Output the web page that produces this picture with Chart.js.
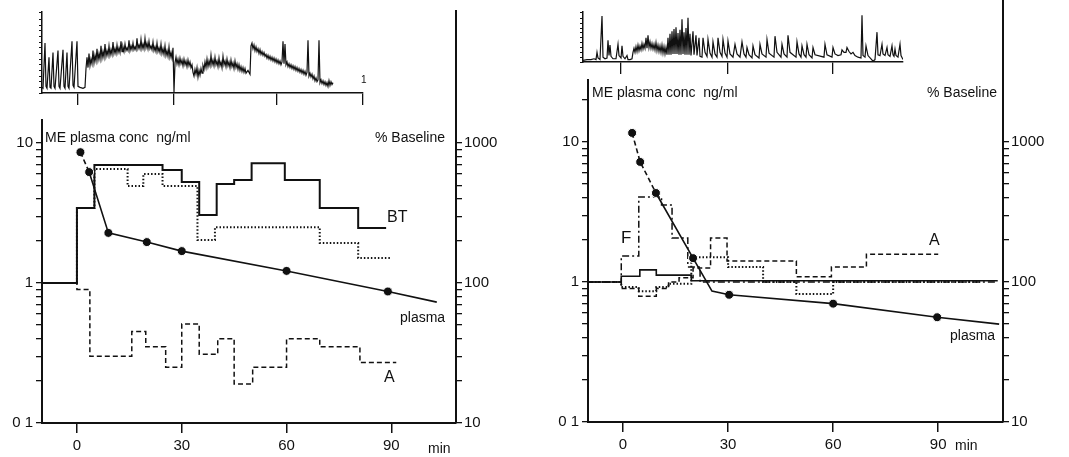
<!DOCTYPE html>
<html>
<head>
<meta charset="utf-8">
<script src="https://cdn.jsdelivr.net/npm/chart.js@4.4.1/dist/chart.umd.min.js"></script>
<style>
  body { margin: 0; background: #fff; }
  #wrap { position: relative; width: 1069px; height: 457px; background: #fff; overflow: hidden; }
  #wrap canvas { position: absolute; }
  .lbl { position: absolute; font: 14px "Liberation Sans", Arial, sans-serif; color: #111; white-space: pre; line-height: 1; }
</style>
</head>
<body>
<div id="wrap">
  <canvas id="mainL" width="530" height="457" style="left:0;top:0"></canvas>
  <canvas id="traceL" width="400" height="110" style="left:0;top:0"></canvas>
  <canvas id="mainR" width="523" height="457" style="left:546px;top:0"></canvas>
  <canvas id="traceR" width="400" height="80" style="left:546px;top:0"></canvas>

  <div class="lbl" style="left:45px;top:130px">ME plasma conc  ng/ml</div>
  <div class="lbl" style="left:375px;top:130px">% Baseline</div>
  <div class="lbl" style="left:387px;top:209px;font-size:16px">BT</div>
  <div class="lbl" style="left:400px;top:310px">plasma</div>
  <div class="lbl" style="left:384px;top:369px;font-size:16px">A</div>
  <div class="lbl" style="left:428px;top:441px">min</div>
  <div class="lbl" style="left:361px;top:75px;font-size:10px">1</div>

  <div class="lbl" style="left:592px;top:85px">ME plasma conc  ng/ml</div>
  <div class="lbl" style="left:927px;top:85px">% Baseline</div>
  <div class="lbl" style="left:621px;top:229px;font-size:17px">F</div>
  <div class="lbl" style="left:929px;top:232px;font-size:16px">A</div>
  <div class="lbl" style="left:950px;top:328px">plasma</div>
  <div class="lbl" style="left:955px;top:438px">min</div>
</div>
<script>
const INK = '#111';

// time axis (min)
const minuteTicks = [0, 30, 60, 90];
const minuteLabels = ['0', '30', '60', '90'];

// log axis labels
const concMajors = [0.1, 1, 10];
const concLabels = ['0 1', '1', '10'];
const pctMajors = [10, 100, 1000];
const pctLabels = ['10', '100', '1000'];
const logMinor = [1, 2, 3, 4, 5, 6, 7, 8, 9];

// ---- left panel ----
const plasmaL_t = [1, 3.5, 9, 20, 30, 60, 89, 103];
const plasmaL_c = [8.6, 6.2, 2.28, 1.96, 1.69, 1.22, 0.87, 0.73];
const plasmaL_dots_t = [1, 3.5, 9, 20, 30, 60, 89];
const plasmaL_dots_c = [8.6, 6.2, 2.28, 1.96, 1.69, 1.22, 0.87];

const btL_edges = [-10, 0, 5, 24.5, 30, 35, 40, 45, 50, 59.5, 69.5, 80.5, 88.5];
const btL_vals = [100, 343, 697, 641, 527, 306, 510, 544, 718, 544, 343, 247];

const dotL_edges = [-10, 0, 5, 14.5, 19, 24.5, 34.5, 39.5, 69.5, 80.5, 90];
const dotL_vals = [100, 343, 652, 493, 600, 493, 203, 250, 193, 151];

const aL_edges = [-10, 0, 3.7, 15.7, 19.7, 25.4, 30, 35, 40.3, 45, 50.3, 60, 69.5, 81, 91.4];
const aL_vals = [100, 90, 30, 45, 35, 25, 51, 31, 40, 19, 25, 40, 35, 27];

// ---- right panel ----
const plasmaR_t = [2.6, 4.9, 9.4, 20, 25.4, 30.3, 60, 89.7, 107.4];
const plasmaR_c = [11.6, 7.2, 4.32, 1.48, 0.86, 0.81, 0.70, 0.56, 0.50];
const plasmaR_dots_t = [2.6, 4.9, 9.4, 20, 30.3, 60, 89.7];
const plasmaR_dots_c = [11.6, 7.2, 4.32, 1.48, 0.81, 0.70, 0.56];

const btR_edges = [-10, -0.5, 4.8, 9.5, 19.5, 107];
const btR_vals = [100, 110, 122, 112, 102];

const dotR_edges = [-10, -0.5, 4.5, 9.5, 13, 19.5, 30, 40, 49.5, 60, 102];
const dotR_vals = [100, 92, 86, 92, 97, 150, 128, 100, 82, 100];

const aR_edges = [-10, -0.5, 4.5, 9.5, 13, 16, 20, 25, 29.7, 49.5, 59.5, 69.5, 90];
const aR_vals = [100, 90, 79, 90, 100, 107, 126, 206, 141, 109, 128, 158];

const fR_edges = [-10, -0.5, 4.5, 11, 14, 18.5, 22, 107];
const fR_vals = [100, 153, 405, 355, 206, 128, 100];

// ---- contraction traces (chart-paper position, height above baseline) ----
const traceL_ticks = [36, 132, 235, 321];
const traceL = [
[0,6],[1,5],[3,53],[4,7],[5,5],[7,38],[8,6],[9,5],[11,43],[12,7],[13,5],[16,45],[17,7],[18,5],[21,46],[22,7],[23,5],[25,43],[26,7],[27,5],[30,55],[31,8],[32,6],[35,55],[36,7],[38,6],[41,5],[43,6],
[44,26],[45,38],[46,27],[47,42],[48,29],[49,36],[50,31],[51,45],[52,32],[53,40],[54,34],[55,47],[56,35],[57,42],[58,36],[59,50],[60,37],[61,44],[62,38],[63,52],[64,39],[65,45],[66,40],[67,50],[68,40],[69,46],[70,41],[71,54],[72,42],[73,47],[74,42],[75,51],[76,43],[77,48],[78,43],[79,55],[80,44],[81,49],[82,44],[83,52],[84,45],[85,48],[86,45],[87,56],[88,45],[89,50],[90,46],[91,53],[92,46],[93,49],[94,46],[95,58],[96,47],[97,51],[98,47],[99,57],[100,47],[101,52],[102,47],[103,58],[104,48],[105,53],[106,47],[107,55],[108,47],[109,50],[110,46],[111,54],[112,45],[113,49],[114,44],[115,53],[116,44],[117,48],[118,43],[119,52],[120,42],[121,47],[122,41],[123,50],[124,40],[125,45],[126,39],[127,49],[128,38],[129,43],[130,37],[131,48],
[132,1],[133,32],[134,38],[135,31],[136,36],[137,30],[138,37],[139,31],[140,35],[141,29],[142,36],[143,30],[144,34],[145,28],[146,35],[147,29],[148,33],[149,27],[150,30],[151,22],[152,18],[153,25],[154,20],[155,27],[156,17],[157,24],[158,19],[159,26],[160,21],[161,29],[162,25],[163,33],[164,27],[165,36],[166,28],[167,34],[168,29],[169,40],[170,30],[171,35],[172,29],[173,38],[174,30],[175,34],[176,28],[177,37],[178,29],[179,33],[180,27],[181,39],[182,30],[183,34],[184,28],[185,36],[186,29],[187,33],[188,27],[189,35],[190,28],[191,32],[192,26],[193,34],[194,27],[195,31],[196,25],[197,30],[198,24],[199,28],[200,23],[201,27],[202,22],[203,26],[204,21],[206,24],[208,20],
[209,50],[210,53],[211,47],[212,51],[213,45],[214,49],[215,44],[216,47],[217,42],[218,46],[219,41],[220,44],[221,40],[222,43],[223,39],[224,41],[225,37],[226,40],[227,36],[228,39],[229,35],[230,38],[231,34],[232,37],[233,33],[234,36],[235,32],[236,35],[237,31],[238,34],[239,30],[240,33],[241,55],[242,31],[243,52],[244,30],[245,33],[246,28],[247,31],[248,27],[249,30],[250,26],[251,29],[252,25],[253,28],[254,24],[255,27],[256,23],[257,26],[258,22],[259,25],[260,21],[261,24],[262,20],[263,23],[264,19],[265,22],[266,56],[267,18],[268,21],[269,17],[270,20],[271,15],[272,18],[273,13],[274,16],[275,12],[276,14],[277,56],[278,11],[279,14],[280,10],[281,13],[282,9],[283,12],[284,8],[285,11],[286,7],[287,13],[288,8],[289,12],[290,9],[291,11]
];

const traceR_ticks = [38, 145, 250];
const traceR = [
[0,2],[4,3],[8,3],[11,4],[13,3],[14,12],[15,5],[17,3],[19,57],[20,6],[22,4],[24,5],[25,27],[26,8],[27,21],[28,7],[30,4],[33,4],[35,22],[36,8],[38,5],[39,20],[40,7],[42,4],[44,8],[45,3],[47,3],[49,4],
[50,12],[51,17],[52,12],[53,19],[54,13],[55,21],[56,14],[57,20],[58,15],[59,23],[60,16],[61,22],[62,17],[63,30],[64,17],[65,33],[66,18],[67,25],[68,17],[69,23],[70,16],[71,22],[72,15],[73,24],[74,14],[75,21],[76,13],[77,20],[78,12],[79,21],[80,11],[81,19],[82,10],[83,18],[84,9],[85,30],[86,9],[87,35],[88,9],[89,38],[90,10],[91,41],[92,10],[93,43],[94,10],[95,36],[96,9],[97,40],[98,9],[99,53],[100,10],[101,37],[102,9],[103,42],[104,9],[105,55],[106,9],[107,35],[108,8],[110,38],[111,9],[113,33],[114,8],[116,30],[117,7],
[119,6],[120,30],[122,12],[124,7],[125,28],[127,11],[129,6],[130,25],[132,10],[134,6],[135,30],[137,12],[139,7],[140,28],[142,11],[144,6],[145,26],[147,10],[150,6],[152,22],[154,10],[157,6],[159,25],[161,10],[163,6],[164,18],[166,9],[169,5],[170,20],[172,9],[176,5],[177,22],[179,10],[183,6],[184,28],[186,11],[191,6],[192,32],[194,12],[198,6],[199,22],[201,10],[204,6],[205,33],[207,12],[213,6],[214,25],[216,10],[218,6],[219,20],[221,9],[223,6],[224,22],[226,9],[229,5],[230,18],[232,9],[241,6],[242,22],[244,9],[249,6],[250,18],[252,10],[255,8],[258,9],[259,15],[261,12],[263,12],[264,18],[266,13],[268,10],[270,12],[272,8],[275,6],[278,5],[279,58],[280,8],[282,6],[283,20],[285,8],[288,4],[290,1],[292,3],[294,37],[295,9],[297,8],[299,22],[300,10],[302,8],[304,18],[305,9],[307,7],[309,20],[310,9],[311,7],[312,16],[313,8],[315,6],[317,22],[318,8],[320,3]
];

Chart.defaults.font.family = '"Liberation Sans", Arial, sans-serif';
Chart.defaults.font.size = 15;
Chart.defaults.color = INK;

function steps(edges, vals) {
    const pts = vals.map((v, i) => ({ x: edges[i], y: v }));
    pts.push({ x: edges[edges.length - 1], y: vals[vals.length - 1] });
    return pts;
}

function pairs(xs, ys) {
    return xs.map((x, i) => ({ x: x, y: ys[i] }));
}

function logTicks(lo, hi, extra) {
    const out = [];
    for (let d = lo; d < hi * 0.99; d *= 10) {
        logMinor.forEach(m => out.push(+(d * m).toPrecision(3)));
    }
    out.push(hi);
    return out.concat(extra || []);
}

// draws the right axis line on above the plot, up through the trace area
const axisExtend = {
    id: 'axisExtend',
    afterDraw(chart, args, opts) {
        if (opts.top == null) return;
        const { ctx, chartArea } = chart;
        ctx.save();
        ctx.strokeStyle = INK;
        ctx.lineWidth = 2;
        ctx.beginPath();
        ctx.moveTo(chartArea.right, opts.top);
        ctx.lineTo(chartArea.right, chartArea.top);
        ctx.stroke();
        ctx.restore();
    }
};

function stepSet(data, dash, width) {
    return {
        data: data, yAxisID: 'y2', stepped: true,
        borderColor: INK, borderWidth: width, borderDash: dash,
        pointRadius: 0, fill: false
    };
}

function mainChart(id, cfg) {
    const canvas = document.getElementById(id);
    const W = canvas.width, H = canvas.height;
    return new Chart(canvas, {
        type: 'line',
        plugins: [axisExtend],
        data: {
            datasets: [
                {
                    data: pairs(cfg.plasmaT, cfg.plasmaC), yAxisID: 'y',
                    borderColor: INK, borderWidth: 1.6, pointRadius: 0, tension: 0,
                    segment: { borderDash: c => c.p0DataIndex < cfg.dashedSegs ? [5, 3] : undefined }
                },
                {
                    data: pairs(cfg.dotsT, cfg.dotsC), yAxisID: 'y', showLine: false,
                    pointRadius: 4.5, pointBackgroundColor: INK,
                    pointBorderColor: '#fff', pointBorderWidth: 1
                },
                ...cfg.steps
            ]
        },
        options: {
            responsive: false,
            animation: false,
            layout: { padding: { top: cfg.areaTop, right: 0, left: 0, bottom: 0 } },
            plugins: {
                legend: { display: false },
                tooltip: { enabled: false },
                axisExtend: { top: cfg.extendTop }
            },
            scales: {
                x: {
                    type: 'linear', min: -10, max: 108.5,
                    afterBuildTicks: s => { s.ticks = minuteTicks.map(v => ({ value: v })); },
                    afterFit: s => { s.height = H - cfg.areaBottom; },
                    ticks: {
                        autoSkip: false, maxRotation: 0, padding: 4,
                        callback: v => { const i = minuteTicks.indexOf(v); return i >= 0 ? minuteLabels[i] : ''; }
                    },
                    grid: { drawOnChartArea: false, tickLength: 10, color: INK, lineWidth: 1.5 },
                    border: { display: true, color: INK, width: 2 }
                },
                y: {
                    type: 'logarithmic', position: 'left', min: 0.1, max: cfg.concMax,
                    afterBuildTicks: s => { s.ticks = cfg.concTicks.map(v => ({ value: v })); },
                    afterFit: s => { s.width = cfg.leftW; },
                    ticks: {
                        autoSkip: false, padding: 3,
                        callback: v => { const i = concMajors.indexOf(v); return i >= 0 ? concLabels[i] : ''; }
                    },
                    grid: { drawOnChartArea: false, tickLength: 6, color: INK, lineWidth: 1.3 },
                    border: { display: true, color: INK, width: 2 }
                },
                y2: {
                    type: 'logarithmic', position: 'right', min: 10, max: cfg.concMax * 100,
                    afterBuildTicks: s => { s.ticks = logTicks(10, 1000).map(v => ({ value: v })); },
                    afterFit: s => { s.width = W - cfg.areaRight; },
                    ticks: {
                        autoSkip: false, padding: 2,
                        callback: v => { const i = pctMajors.indexOf(v); return i >= 0 ? pctLabels[i] : ''; }
                    },
                    grid: { drawOnChartArea: false, tickLength: 6, color: INK, lineWidth: 1.3 },
                    border: { display: true, color: INK, width: 2 }
                }
            }
        }
    });
}

function traceChart(id, cfg) {
    const canvas = document.getElementById(id);
    const H = canvas.height;
    return new Chart(canvas, {
        type: 'line',
        data: {
            datasets: [{
                data: cfg.trace.map(p => ({ x: p[0], y: p[1] })),
                borderColor: INK, borderWidth: 1.2, pointRadius: 0, tension: 0
            }]
        },
        options: {
            responsive: false,
            animation: false,
            layout: { padding: { top: cfg.areaTop, right: cfg.padRight, left: 0, bottom: 0 } },
            plugins: { legend: { display: false }, tooltip: { enabled: false } },
            scales: {
                x: {
                    type: 'linear', min: 0, max: cfg.xMax,
                    afterBuildTicks: s => { s.ticks = cfg.ticks.map(v => ({ value: v })); },
                    afterFit: s => { s.height = H - cfg.areaBottom; },
                    ticks: { autoSkip: false, callback: () => '' },
                    grid: { drawOnChartArea: false, tickLength: 12, color: INK, lineWidth: 1.3 },
                    border: { display: true, color: INK, width: 1.5 }
                },
                y: {
                    type: 'linear', min: 0, max: cfg.yMax,
                    afterFit: s => { s.width = cfg.leftW; },
                    ticks: { stepSize: 6, autoSkip: false, callback: () => '' },
                    grid: { drawOnChartArea: false, tickLength: 3, color: INK, lineWidth: 1 },
                    border: { display: true, color: INK, width: 1.5 }
                }
            }
        }
    });
}

mainChart('mainL', {
    plasmaT: plasmaL_t, plasmaC: plasmaL_c, dotsT: plasmaL_dots_t, dotsC: plasmaL_dots_c,
    dashedSegs: 1,
    steps: [
        stepSet(steps(btL_edges, btL_vals), [], 2),
        stepSet(steps(dotL_edges, dotL_vals), [1.5, 2], 2),
        stepSet(steps(aL_edges, aL_vals), [5, 3], 1.5)
    ],
    concMax: 14.6, concTicks: logTicks(0.1, 10),
    areaTop: 120, areaBottom: 423, areaRight: 456, leftW: 42, extendTop: 10
});

mainChart('mainR', {
    plasmaT: plasmaR_t, plasmaC: plasmaR_c, dotsT: plasmaR_dots_t, dotsC: plasmaR_dots_c,
    dashedSegs: 2,
    steps: [
        stepSet(steps(btR_edges, btR_vals), [], 1.6),
        stepSet(steps(dotR_edges, dotR_vals), [1.5, 2], 2),
        stepSet(steps(aR_edges, aR_vals), [5, 3], 1.5),
        stepSet(steps(fR_edges, fR_vals), [7, 3, 2, 3], 1.5)
    ],
    concMax: 27.7, concTicks: logTicks(0.1, 10, [20]),
    areaTop: 80, areaBottom: 422, areaRight: 457, leftW: 42, extendTop: 0
});

traceChart('traceL', {
    trace: traceL, ticks: traceL_ticks, xMax: 321, yMax: 86,
    areaTop: 7, areaBottom: 93, padRight: 37, leftW: 42
});

traceChart('traceR', {
    trace: traceR, ticks: traceR_ticks, xMax: 320, yMax: 62,
    areaTop: 0, areaBottom: 62, padRight: 43, leftW: 37
});
</script>
</body>
</html>
